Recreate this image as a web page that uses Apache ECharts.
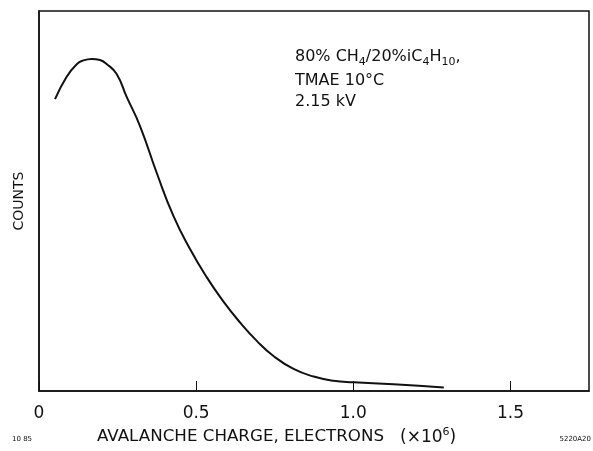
<!DOCTYPE html>
<html>
<head>
<meta charset="utf-8">
<script src="https://cdn.jsdelivr.net/npm/echarts@6/dist/echarts.min.js"></script>
<style>
html,body{margin:0;padding:0;background:#fff;}
#chart{width:593px;height:451px;}
</style>
</head>
<body>
<div id="chart"></div>
<script>
// Avalanche charge (x10^6 electrons)
const charge = [0.051, 0.088, 0.120, 0.141, 0.168, 0.194, 0.216, 0.247, 0.279, 0.322, 0.375, 0.428, 0.481, 0.534, 0.587, 0.640, 0.693, 0.746, 0.810, 0.874, 0.937, 1.001, 1.128, 1.288];
// Counts (arbitrary units, 0 = axis, 100 = top of frame)
const counts = [76.8, 82.7, 86.0, 87.0, 87.4, 87.1, 86.0, 83.4, 77.4, 69.6, 57.3, 46.0, 37.3, 29.9, 23.5, 18.0, 13.2, 9.2, 5.8, 3.8, 2.7, 2.3, 1.8, 0.9];
const xTickLabels = ['0', '0.5', '1.0', '1.5'];
const xTitle = 'AVALANCHE CHARGE, ELECTRONS';
const yTitle = 'COUNTS';
const noteLines = ['TMAE 10\u00b0C', '2.15 kV'];

const FONT = '"DejaVu Sans", sans-serif';
const INK = '#111';

const chart = echarts.init(document.getElementById('chart'), null, {renderer: 'canvas'});
chart.setOption({
  animation: false,
  backgroundColor: '#fff',
  grid: {left: 39, right: 4, top: 11, bottom: 60, show: true, borderColor: INK, borderWidth: 1.5, backgroundColor: 'transparent'},
  xAxis: {
    type: 'value', min: 0, max: 1.75, interval: 0.5,
    axisLine: {show: true, lineStyle: {color: INK, width: 1.5}},
    axisTick: {show: true, inside: true, length: 10, lineStyle: {color: INK, width: 1}},
    splitLine: {show: false},
    axisLabel: {
      show: true, margin: 14, color: INK, fontFamily: FONT, fontSize: 17,
      showMaxLabel: false,
      formatter: function (v) { const i = Math.round(v / 0.5); return xTickLabels[i] !== undefined && Math.abs(v - i * 0.5) < 1e-9 ? xTickLabels[i] : ''; }
    }
  },
  yAxis: {
    type: 'value', min: 0, max: 100,
    axisLine: {show: true, lineStyle: {color: INK, width: 1.5}},
    axisTick: {show: false}, axisLabel: {show: false}, splitLine: {show: false},
    name: yTitle, nameLocation: 'middle', nameGap: 13, nameRotate: 90,
    nameTextStyle: {color: INK, fontFamily: FONT, fontSize: 14}
  },
  series: [{
    type: 'line', smooth: true, showSymbol: false,
    lineStyle: {color: INK, width: 2},
    data: charge.map((c, i) => [c, counts[i]])
  }],
  graphic: [
    {type: 'text', left: 295, top: 49, style: {
      text: '{n|80% CH}{s|4}{n|/20%iC}{s|4}{n|H}{s|10}{n|,}',
      rich: {
        n: {fontFamily: FONT, fontSize: 16, fill: INK, lineHeight: 21},
        s: {fontFamily: FONT, fontSize: 11, fill: INK, lineHeight: 12, verticalAlign: 'bottom'}
      }
    }},
    {type: 'text', left: 295, top: 70, style: {text: noteLines.join('\n'), fontFamily: FONT, fontSize: 16, fill: INK, lineHeight: 21}},
    {type: 'text', left: 97, top: 428, style: {text: xTitle, fontFamily: FONT, fontSize: 16.7, fill: INK}},
    {type: 'text', left: 400, top: 427, style: {
      text: '{n|(\u00d710}{p|6}{n|)}',
      rich: {
        n: {fontFamily: FONT, fontSize: 17, fill: INK, lineHeight: 19, verticalAlign: 'bottom'},
        p: {fontFamily: FONT, fontSize: 11, fill: INK, lineHeight: 12, verticalAlign: 'top'}
      }
    }},
    {type: 'text', left: 12, top: 436, style: {text: '10 85', fontFamily: FONT, fontSize: 7, fill: INK}},
    {type: 'text', right: 2, top: 436, style: {text: '5220A20', fontFamily: FONT, fontSize: 7, fill: INK}}
  ]
});
</script>
</body>
</html>
